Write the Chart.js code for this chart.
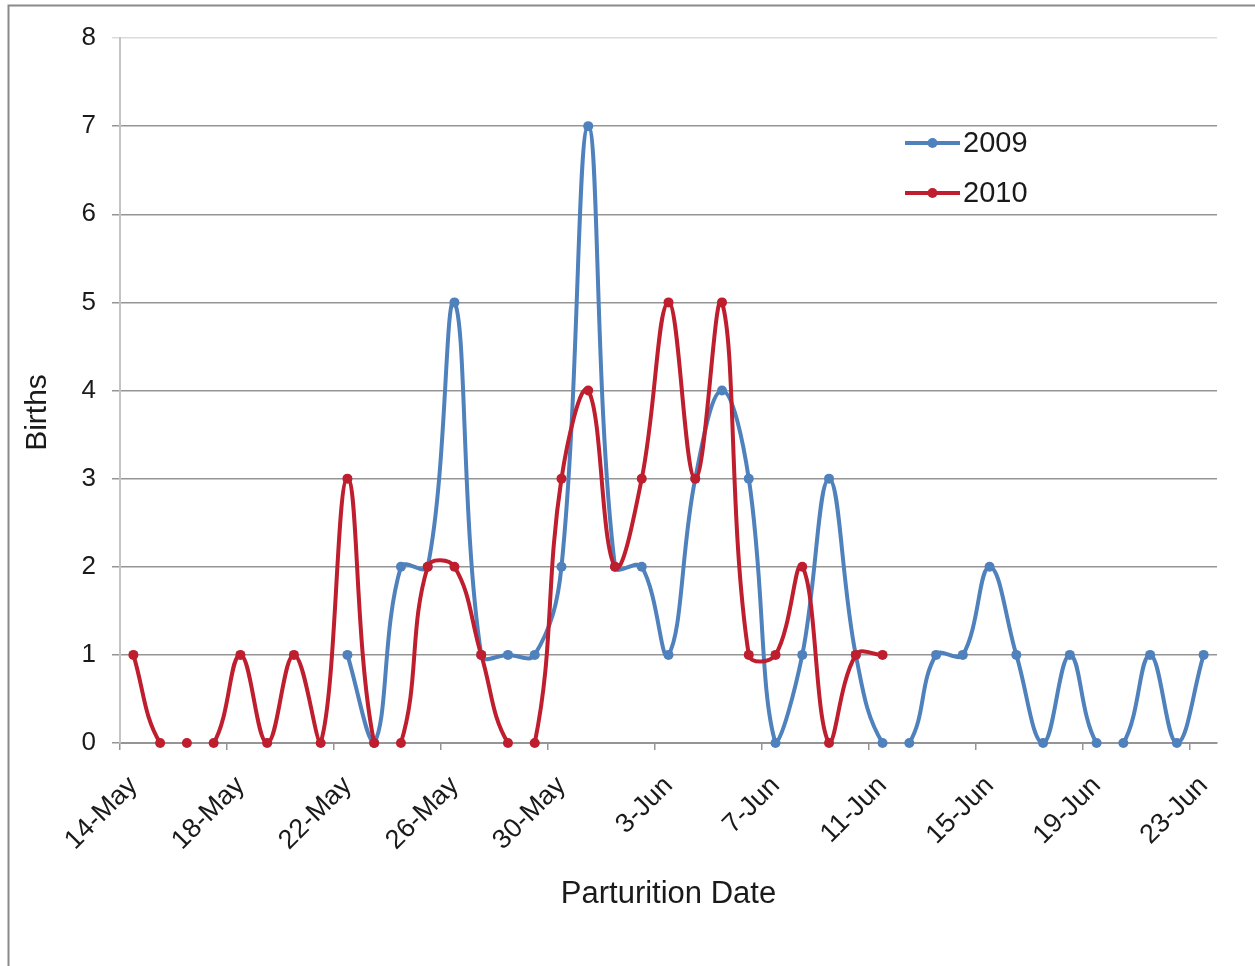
<!DOCTYPE html>
<html>
<head>
<meta charset="utf-8">
<title>Births by Parturition Date</title>
<script src="https://cdn.jsdelivr.net/npm/chart.js@4/dist/chart.umd.min.js"></script>
<style>
  html, body { margin: 0; padding: 0; background: #ffffff; }
  #wrap { position: relative; width: 1255px; height: 966px; }
  canvas { display: block; }
</style>
</head>
<body>
<div id="wrap"><canvas id="chart" width="1255" height="966"></canvas></div>
<script>
// Daily categories, 14 May to 23 June
const dates = [
  '14-May','15-May','16-May','17-May','18-May','19-May','20-May','21-May','22-May','23-May',
  '24-May','25-May','26-May','27-May','28-May','29-May','30-May','31-May',
  '1-Jun','2-Jun','3-Jun','4-Jun','5-Jun','6-Jun','7-Jun','8-Jun','9-Jun','10-Jun',
  '11-Jun','12-Jun','13-Jun','14-Jun','15-Jun','16-Jun','17-Jun','18-Jun','19-Jun','20-Jun',
  '21-Jun','22-Jun','23-Jun'
];

// Births per day, 2009 season (no records before 22 May)
const births2009 = [
  null, null, null, null, null, null, null, null, 1, 0,
  2, 2, 5, 1, 1, 1, 2, 7,
  2, 2, 1, 3, 4, 3, 0, 1, 3, 1,
  0, 0, 1, 1, 2, 1, 0, 1, 0, 0,
  1, 0, 1
];

// Births per day, 2010 season (no records after 11 June)
const births2010 = [
  1, 0, 0, 0, 1, 0, 1, 0, 3, 0,
  0, 2, 2, 1, 0, 0, 3, 4,
  2, 3, 5, 3, 5, 1, 1, 2, 0, 1,
  1, null, null, null, null, null, null, null, null, null,
  null, null, null
];

const yTicks = [0, 1, 2, 3, 4, 5, 6, 7, 8];
const seriesNames = ['2009', '2010'];
const xTitle = 'Parturition Date';
const yTitle = 'Births';

const BLUE = '#4F81BD';
const RED = '#BE1E2D';
const GRID = '#959595';
const FONT = 'Liberation Sans, Arial, sans-serif';
const TEXT = '#1a1a1a';

// Hide runs that sit flat on the zero baseline
const hideFlatZero = ctx =>
  (ctx.p0.parsed.y === 0 && ctx.p1.parsed.y === 0) ? 'rgba(0,0,0,0)' : undefined;

// Outer frame: thin rules along the top and left edges
const framePlugin = {
  id: 'frame',
  beforeDraw(chart) {
    const c = chart.ctx;
    c.save();
    c.fillStyle = '#ffffff';
    c.fillRect(0, 0, chart.width, chart.height);
    c.strokeStyle = '#8a8a8a';
    c.lineWidth = 2;
    c.beginPath();
    c.moveTo(8.5, chart.height);
    c.lineTo(8.5, 5.5);
    c.lineTo(chart.width, 5.5);
    c.stroke();
    c.restore();
  }
};

// Vertical axis title, set a little below the plot's middle
const yTitlePlugin = {
  id: 'yTitle',
  afterDraw(chart) {
    const c = chart.ctx;
    const area = chart.chartArea;
    c.save();
    c.translate(38, (area.top + area.bottom) / 2 + 22);
    c.rotate(-Math.PI / 2);
    c.fillStyle = TEXT;
    c.font = '30px ' + FONT;
    c.textAlign = 'center';
    c.textBaseline = 'middle';
    c.fillText(yTitle, 0, 0);
    c.restore();
  }
};

// Legend drawn inside the plot, upper right
const insideLegend = {
  id: 'insideLegend',
  afterDatasetsDraw(chart) {
    const c = chart.ctx;
    const area = chart.chartArea;
    const x0 = area.right - 312;
    const y0 = area.top + 105;
    c.save();
    chart.data.datasets.forEach((ds, i) => {
      const y = y0 + i * 50;
      c.strokeStyle = ds.borderColor;
      c.lineWidth = 4;
      c.beginPath();
      c.moveTo(x0, y);
      c.lineTo(x0 + 55, y);
      c.stroke();
      c.fillStyle = ds.borderColor;
      c.beginPath();
      c.arc(x0 + 27.5, y, 5, 0, Math.PI * 2);
      c.fill();
      c.fillStyle = TEXT;
      c.font = '29px ' + FONT;
      c.textAlign = 'left';
      c.textBaseline = 'middle';
      c.fillText(ds.label, x0 + 58, y + 1);
    });
    c.restore();
  }
};

const lineStyle = color => ({
  borderColor: color,
  backgroundColor: color,
  pointBackgroundColor: color,
  pointBorderColor: color,
  pointBorderWidth: 0,
  pointRadius: 5,
  pointHoverRadius: 5,
  borderWidth: 4,
  tension: 0.4,
  fill: false,
  spanGaps: false,
  clip: false,
  segment: { borderColor: hideFlatZero }
});

new Chart(document.getElementById('chart'), {
  type: 'line',
  data: {
    labels: dates,
    datasets: [
      Object.assign({ label: seriesNames[0], data: births2009, order: 1 }, lineStyle(BLUE)),
      Object.assign({ label: seriesNames[1], data: births2010, order: 0 }, lineStyle(RED))
    ]
  },
  options: {
    responsive: false,
    animation: false,
    devicePixelRatio: 1,
    layout: { padding: { left: 0, top: 38, right: 38, bottom: 0 } },
    plugins: {
      legend: { display: false },
      tooltip: { enabled: false }
    },
    scales: {
      x: {
        type: 'category',
        offset: true,
        afterFit(scale) { scale.height = 966 - 743; },
        grid: {
          offset: true,
          drawOnChartArea: false,
          drawTicks: true,
          tickLength: 7,
          lineWidth: 1.5,
          color: ctx => (ctx.tick && ctx.index % 4 === 0) ? GRID : 'rgba(0,0,0,0)'
        },
        border: { display: true, color: GRID, width: 2 },
        ticks: {
          autoSkip: false,
          minRotation: 45,
          maxRotation: 45,
          padding: 20,
          color: TEXT,
          font: { family: FONT, size: 27 },
          callback: (v, i) => (i % 4 === 0 ? dates[i] : '')
        },
        title: {
          display: true,
          text: xTitle,
          color: TEXT,
          font: { family: FONT, size: 31 },
          padding: { top: 0, bottom: 53 }
        }
      },
      y: {
        min: yTicks[0],
        max: yTicks[yTicks.length - 1],
        afterFit(scale) { scale.width = 120; },
        afterBuildTicks(scale) { scale.ticks = yTicks.map(v => ({ value: v })); },
        grid: {
          drawTicks: true,
          tickLength: 8,
          lineWidth: 1.5,
          color: ctx => (ctx.tick && ctx.tick.value === 8) ? '#dcdcdc' : GRID
        },
        border: { display: true, color: '#c4c4c4', width: 2 },
        ticks: {
          padding: 16,
          color: TEXT,
          font: { family: FONT, size: 26 }
        },
        title: { display: false }
      }
    }
  },
  plugins: [framePlugin, yTitlePlugin, insideLegend]
});
</script>
</body>
</html>
